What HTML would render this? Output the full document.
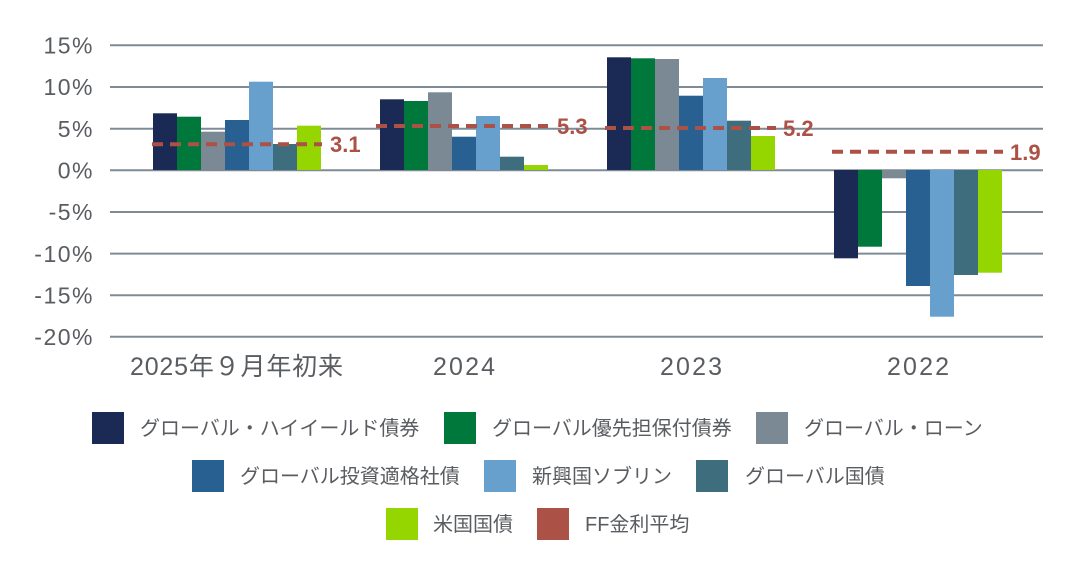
<!DOCTYPE html>
<html><head><meta charset="utf-8"><style>
html,body{margin:0;padding:0;background:#fff;}
svg{display:block;}
text{font-family:"Liberation Sans","Noto Sans CJK JP",sans-serif;}
</style></head><body>
<svg width="1076" height="572" viewBox="0 0 1076 572" xmlns="http://www.w3.org/2000/svg">
<g stroke="#7e8b96" stroke-width="2">
<line x1="110" y1="45.3" x2="1043" y2="45.3"/>
<line x1="110" y1="87" x2="1043" y2="87"/>
<line x1="110" y1="128.7" x2="1043" y2="128.7"/>
<line x1="110" y1="170.3" x2="1043" y2="170.3"/>
<line x1="110" y1="212" x2="1043" y2="212"/>
<line x1="110" y1="253.6" x2="1043" y2="253.6"/>
<line x1="110" y1="295.2" x2="1043" y2="295.2"/>
<line x1="110" y1="336.8" x2="1043" y2="336.8"/>
</g>
<g fill="#595c60" font-size="23" text-anchor="end" letter-spacing="1.5">
<text x="94" y="53.5">15%</text>
<text x="94" y="95.2">10%</text>
<text x="94" y="136.9">5%</text>
<text x="94" y="178.5">0%</text>
<text x="94" y="220.2">-5%</text>
<text x="94" y="261.8">-10%</text>
<text x="94" y="303.4">-15%</text>
<text x="94" y="345">-20%</text>
</g>
<!-- group 1 -->
<rect x="153" y="113.3" width="24" height="56.7" fill="#1a2a55"/>
<rect x="177" y="116.7" width="24" height="53.3" fill="#00783c"/>
<rect x="201" y="131.7" width="24" height="38.3" fill="#7b8995"/>
<rect x="225" y="120" width="24" height="50" fill="#286092"/>
<rect x="249" y="81.7" width="24" height="88.3" fill="#67a0cc"/>
<rect x="273" y="144" width="24" height="26" fill="#3e6d7e"/>
<rect x="297" y="125.7" width="24" height="44.3" fill="#95d600"/>
<!-- group 2 -->
<rect x="380" y="99.3" width="24" height="70.7" fill="#1a2a55"/>
<rect x="404" y="101" width="24" height="69" fill="#00783c"/>
<rect x="428" y="92.3" width="24" height="77.7" fill="#7b8995"/>
<rect x="452" y="136.7" width="24" height="33.3" fill="#286092"/>
<rect x="476" y="116" width="24" height="54" fill="#67a0cc"/>
<rect x="500" y="156.7" width="24" height="13.3" fill="#3e6d7e"/>
<rect x="524" y="165" width="24" height="5" fill="#95d600"/>
<!-- group 3 -->
<rect x="607" y="57.3" width="24" height="112.7" fill="#1a2a55"/>
<rect x="631" y="58.3" width="24" height="111.7" fill="#00783c"/>
<rect x="655" y="59" width="24" height="111" fill="#7b8995"/>
<rect x="679" y="95.7" width="24" height="74.3" fill="#286092"/>
<rect x="703" y="78" width="24" height="92" fill="#67a0cc"/>
<rect x="727" y="120.7" width="24" height="49.3" fill="#3e6d7e"/>
<rect x="751" y="136" width="24" height="34" fill="#95d600"/>
<!-- group 4 -->
<rect x="834" y="170" width="24" height="88.3" fill="#1a2a55"/>
<rect x="858" y="170" width="24" height="76.7" fill="#00783c"/>
<rect x="882" y="170" width="24" height="8.3" fill="#7b8995"/>
<rect x="906" y="170" width="24" height="116" fill="#286092"/>
<rect x="930" y="170" width="24" height="146.7" fill="#67a0cc"/>
<rect x="954" y="170" width="24" height="105" fill="#3e6d7e"/>
<rect x="978" y="170" width="24" height="102.7" fill="#95d600"/>
<!-- FF lines -->
<g stroke="#ab5145" stroke-width="4" stroke-dasharray="11 7" stroke-linecap="butt">
<line x1="152" y1="144.3" x2="322" y2="144.3"/>
<line x1="376" y1="126" x2="548" y2="126"/>
<line x1="605" y1="128" x2="776" y2="128"/>
<line x1="832" y1="151.7" x2="1003" y2="151.7"/>
</g>
<g fill="#ab5145" font-size="22" font-weight="bold">
<text x="330" y="152">3.1</text>
<text x="557" y="134">5.3</text>
<text x="783" y="136">5.2</text>
<text x="1010" y="160">1.9</text>
</g>
<g fill="#595c60" font-size="25">
<text x="130" y="375" textLength="213" lengthAdjust="spacing">2025年９月年初来</text>
<text x="433" y="375" textLength="62" lengthAdjust="spacing">2024</text>
<text x="660" y="375" textLength="62" lengthAdjust="spacing">2023</text>
<text x="887" y="375" textLength="62" lengthAdjust="spacing">2022</text>
</g>
<!-- legend -->
<rect x="92" y="412" width="32" height="32" fill="#1a2a55"/>
<rect x="444" y="412" width="32" height="32" fill="#00783c"/>
<rect x="756" y="412" width="32" height="32" fill="#7b8995"/>
<rect x="192" y="460" width="32" height="32" fill="#286092"/>
<rect x="484" y="460" width="32" height="32" fill="#67a0cc"/>
<rect x="696" y="460" width="32" height="32" fill="#3e6d7e"/>
<rect x="386" y="508" width="32" height="32" fill="#95d600"/>
<rect x="537" y="508" width="32" height="32" fill="#ab5145"/>
<g fill="#595c60" font-size="20">
<text x="140" y="435">グローバル・ハイイールド債券</text>
<text x="492" y="435">グローバル優先担保付債券</text>
<text x="804" y="435">グローバル・ローン</text>
<text x="240" y="483">グローバル投資適格社債</text>
<text x="532" y="483">新興国ソブリン</text>
<text x="745" y="483">グローバル国債</text>
<text x="433" y="531">米国国債</text>
<text x="585" y="531">FF金利平均</text>
</g>
</svg>
</body></html>
